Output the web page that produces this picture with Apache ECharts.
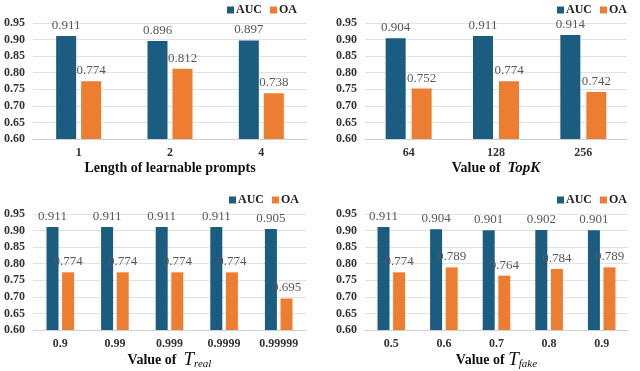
<!DOCTYPE html>
<html>
<head>
<meta charset="utf-8">
<script src="https://cdn.jsdelivr.net/npm/echarts@6/dist/echarts.min.js"></script>
<style>
  html, body { margin: 0; padding: 0; background: #fff; }
  #chart { width: 640px; height: 371px; }
</style>
</head>
<body>
<div id="chart"></div>
<script>
const catsPrompt = ['1', '2', '4'];
const aucPrompt = [0.911, 0.896, 0.897];
const oaPrompt = [0.774, 0.812, 0.738];

const catsTopK = ['64', '128', '256'];
const aucTopK = [0.904, 0.911, 0.914];
const oaTopK = [0.752, 0.774, 0.742];

const catsReal = ['0.9', '0.99', '0.999', '0.9999', '0.99999'];
const aucReal = [0.911, 0.911, 0.911, 0.911, 0.905];
const oaReal = [0.774, 0.774, 0.774, 0.774, 0.695];

const catsFake = ['0.5', '0.6', '0.7', '0.8', '0.9'];
const aucFake = [0.911, 0.904, 0.901, 0.902, 0.901];
const oaFake = [0.774, 0.789, 0.764, 0.784, 0.789];

const yMin = 0.60, yMax = 0.95, yStep = 0.05;

const serif = '"Liberation Serif", "Times New Roman", serif';
const aucColor = '#1a5d80';
const oaColor = '#ed7d31';

const panels = [
  { cats: catsPrompt, auc: aucPrompt, oa: oaPrompt, grid: { left: 33, width: 274, top: 23, height: 116 },
    legend: { right: 338, top: -1 }, barWidth: 20, gap: '25%', nameGap: 22,
    name: '{b|Length of learnable prompts}' },
  { cats: catsTopK, auc: aucTopK, oa: oaTopK, grid: { left: 365, width: 262, top: 23, height: 116 },
    legend: { right: 8, top: -1 }, barWidth: 20, gap: '30%', nameGap: 22,
    name: '{b|Value of  }{i|TopK}' },
  { cats: catsReal, auc: aucReal, oa: oaReal, grid: { left: 33, width: 273, top: 214, height: 116 },
    legend: { right: 336, top: 189 }, barWidth: 12, gap: '30%', nameGap: 20,
    name: '{b|Value of  }{t|T}{s|real}' },
  { cats: catsFake, auc: aucFake, oa: oaFake, grid: { left: 365, width: 263, top: 214, height: 116 },
    legend: { right: 8, top: 189 }, barWidth: 12, gap: '30%', nameGap: 20,
    name: '{b|Value of }{t|T}{s|fake}' }
];

const option = {
  animation: false,
  grid: [], xAxis: [], yAxis: [], legend: [], series: []
};

panels.forEach((p, i) => {
  option.grid.push(Object.assign({ outerBoundsMode: 'none', containLabel: false }, p.grid));
  option.legend.push({
    right: p.legend.right, top: p.legend.top, orient: 'horizontal', width: 120,
    data: ['AUC', 'OA'],
    icon: 'rect', itemWidth: 7, itemHeight: 7, itemGap: 8,
    textStyle: { fontFamily: serif, fontWeight: 'bold', fontSize: 12, color: '#222', padding: [0, 0, 0, -3] }
  });
  option.xAxis.push({
    type: 'category', gridIndex: i, data: p.cats,
    axisLine: { lineStyle: { color: '#d0d0d0' } },
    axisTick: { show: false },
    axisLabel: { fontFamily: serif, fontWeight: 'bold', fontSize: 12, color: '#333', margin: 8 },
    name: p.name, nameLocation: 'middle', nameGap: p.nameGap,
    nameTextStyle: {
      rich: {
        b: { fontFamily: serif, fontWeight: 'bold', fontSize: 14, color: '#111' },
        i: { fontFamily: serif, fontWeight: 'bold', fontStyle: 'italic', fontSize: 15, color: '#111' },
        t: { fontFamily: serif, fontStyle: 'italic', fontSize: 19, color: '#111' },
        s: { fontFamily: serif, fontStyle: 'italic', fontSize: 11, color: '#111', padding: [8, 0, 0, 0] }
      }
    }
  });
  option.yAxis.push({
    type: 'value', gridIndex: i, min: yMin, max: yMax, interval: yStep,
    axisLine: { show: false }, axisTick: { show: false },
    splitLine: { lineStyle: { color: '#e2e2e2' } },
    axisLabel: { fontFamily: serif, fontWeight: 'bold', fontSize: 12, color: '#333', margin: 8,
      formatter: v => v.toFixed(2) }
  });
  const lbl = { show: true, position: 'top', distance: 4, fontFamily: serif, fontSize: 13, color: '#595959',
    formatter: d => d.value.toFixed(3) };
  option.series.push({
    name: 'AUC', type: 'bar', xAxisIndex: i, yAxisIndex: i, data: p.auc,
    barWidth: p.barWidth, barGap: p.gap, itemStyle: { color: aucColor }, label: lbl
  });
  option.series.push({
    name: 'OA', type: 'bar', xAxisIndex: i, yAxisIndex: i, data: p.oa,
    barWidth: p.barWidth, barGap: p.gap, itemStyle: { color: oaColor }, label: lbl
  });
});

const chart = echarts.init(document.getElementById('chart'), null, { renderer: 'canvas' });
chart.setOption(option);
</script>
</body>
</html>
